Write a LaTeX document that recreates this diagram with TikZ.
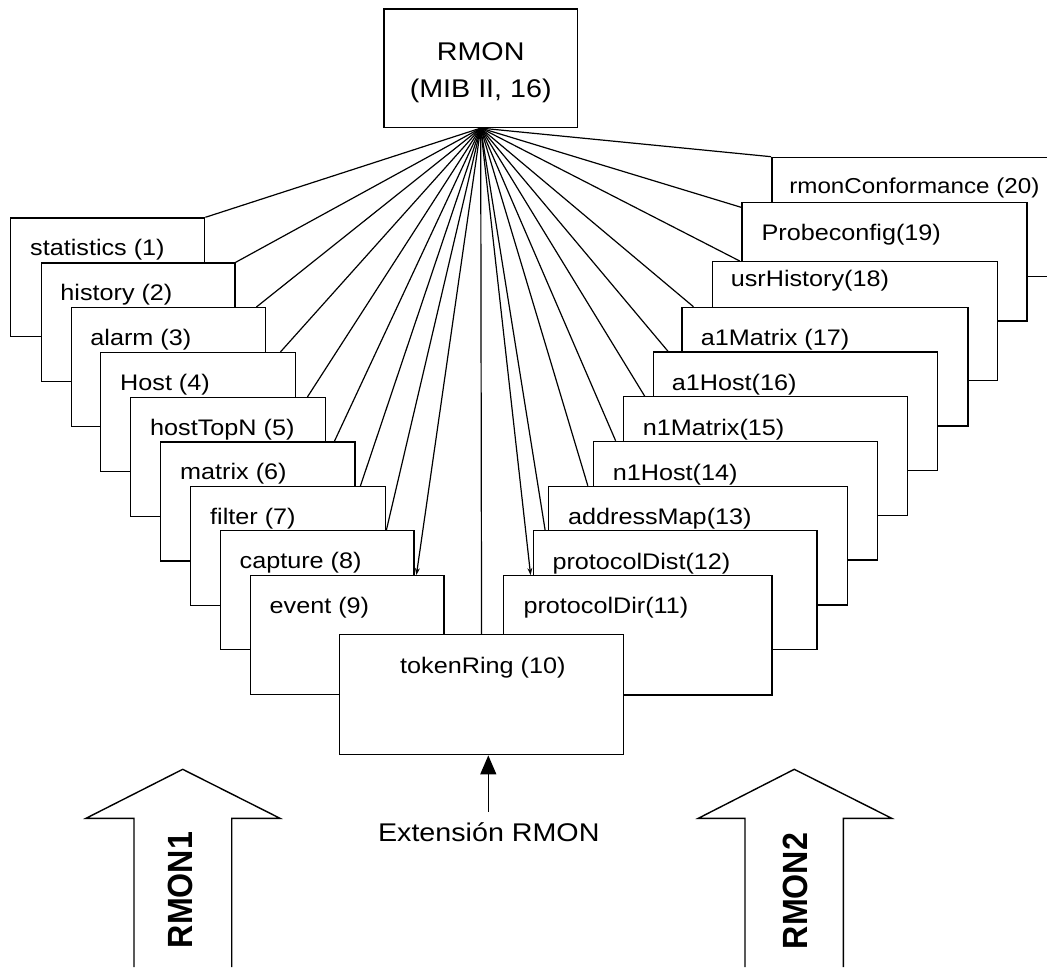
\documentclass[tikz,border=0pt]{standalone}
\usepackage{fontspec}
\setmainfont{Liberation Sans}[FakeStretch=1.12]
\newfontfamily\arrowfont{Liberation Sans}[FakeStretch=0.92]
\usetikzlibrary{arrows.meta,calc}

% one group box of the MIB tree: name, x, y (top left), width, height,
% label offset x, label offset y (baseline), label
\newcommand\groupbox[8]{%
  \node[grp,minimum width=#4pt,minimum height=#5pt] (#1) at (#2,#3) {};
  \node[lbl] (#1-lbl) at ($(#1.north west)+(#6,#7)$) {#8};}

\begin{document}
\begin{tikzpicture}[x=1pt,y=-1pt,
  grp/.style={draw,fill=white,line width=1.4pt,inner sep=0pt,anchor=north west},
  lbl/.style={inner sep=0pt,anchor=base west,font=\fontsize{22.5}{27}\selectfont},
  link/.style={line width=1.2pt},
  tiplink/.style={link,-{Stealth[length=7pt,width=5pt]}},
  bigarrow/.style={line width=1.4pt,line join=miter},
  arrowlbl/.style={inner sep=0pt,rotate=90,font=\arrowfont\bfseries\fontsize{35}{40}\selectfont}]
\useasboundingbox (0,0) rectangle (1047,977);
\clip (0,0) rectangle (1047,977);

% root of the tree
\node[grp,minimum width=193.4pt,minimum height=118.4pt] (rmon) at (383.3,8.3) {};
\node[align=center,inner sep=0pt,font=\fontsize{25.6}{36.7}\selectfont]
  (rmon-lbl) at ($(rmon.center)+(0,4.5)$) {RMON\\(MIB II, 16)};
\coordinate (apex) at (rmon.south);

% groups of RMON1, back to front
\groupbox{g1}{10}{217.3}{194}{118.7}{20}{38.5}{statistics (1)}
\groupbox{g2}{40.7}{262.3}{193.6}{118.7}{19.5}{38.5}{history (2)}
\groupbox{g3}{70.7}{307}{194.3}{119}{19.5}{38.5}{alarm (3)}
\groupbox{g4}{100}{352}{195}{119}{20}{38.5}{Host (4)}
\groupbox{g5}{130}{397}{195}{119}{20}{38.5}{hostTopN (5)}
\groupbox{g6}{160}{441.3}{194.3}{119}{20}{38.5}{matrix (6)}
\groupbox{g7}{190}{486}{195}{119}{20}{38.5}{filter (7)}
\groupbox{g8}{220}{530}{193.3}{119}{19.5}{38.5}{capture (8)}
\groupbox{g9}{250}{575}{193.3}{119}{19.5}{38.3}{event (9)}

% groups of RMON2, back to front
\groupbox{g20}{771.1}{156.7}{300}{119.3}{18}{36.3}{\fontsize{21.6}{26}\selectfont rmonConformance (20)}
\groupbox{g19}{741.1}{201.7}{285}{118.5}{20.3}{38.3}{Probeconfig(19)}
\groupbox{g18}{711.5}{261}{285}{119}{19.1}{25}{usrHistory(18)}
\groupbox{g17}{681.4}{306.7}{285.7}{118.6}{19.2}{38.3}{a1Matrix (17)}
\groupbox{g16}{652.5}{351.3}{284.3}{118.7}{19.2}{38.7}{a1Host(16)}
\groupbox{g15}{622.8}{396}{283.9}{119}{19.9}{39}{n1Matrix(15)}
\groupbox{g14}{592.8}{440.7}{283.9}{118.6}{19.9}{39.3}{n1Host(14)}
\groupbox{g13}{548}{485.7}{299}{118.7}{19.9}{38.3}{addressMap(13)}
\groupbox{g12}{532.7}{530}{283.6}{118.7}{19.6}{39.3}{protocolDist(12)}
\groupbox{g11}{502.8}{575}{268.3}{119.3}{20.5}{38.3}{protocolDir(11)}

% token ring extension in front of both stacks
\groupbox{g10}{339}{634}{283.7}{120}{61}{39}{tokenRing (10)}

% connectors from the root to every group
\draw[link] (apex) -- (g1.north east);
\draw[link] (apex) -- (g2.north east);
\draw[link] (apex) -- ($(g3.north east)+(-10,0)$);
\draw[link] (apex) -- ($(g4.north east)+(-16,0)$);
\draw[link] (apex) -- ($(g5.north east)+(-19,0)$);
\draw[link] (apex) -- ($(g6.north east)+(-21.3,0)$);
\draw[link] (apex) -- ($(g7.north east)+(-26,0)$);
\draw[link] (apex) -- ($(g8.north east)+(-28.3,0)$);
\draw[tiplink] (apex) -- ($(g9.north east)+(-28.3,0)$);
\draw[link] (apex) -- (g10.north);
\draw[tiplink] (apex) -- ($(g11.north west)+(27.8,0)$);
\draw[link] (apex) -- ($(g12.north west)+(12.4,0)$);
\draw[link] (apex) -- ($(g13.north west)+(39.8,0)$);
\draw[link] (apex) -- ($(g14.north west)+(22.8,0)$);
\draw[link] (apex) -- ($(g15.north west)+(21.8,0)$);
\draw[link] (apex) -- ($(g16.north west)+(15.5,0)$);
\draw[link] (apex) -- ($(g17.north west)+(12,0)$);
\draw[link] (apex) -- ($(g18.north west)+(28.2,0)$);
\draw[link] (apex) -- ($(g19.north west)+(0,5.6)$);
\draw[link] (apex) -- (g20.north west);

% extension pointer
\node[inner sep=0pt,anchor=base,font=\fontsize{25.6}{30}\selectfont]
  (ext) at (488.8,841.7) {Extensión RMON};
\coordinate (extTail) at (488.3,811.7);
\draw[line width=1.3pt,-{Triangle[length=19pt,width=16pt]}] (extTail) -- (extTail |- g10.south);

% the two block arrows
\draw[bigarrow] (134,967) -- (134,818.3) -- (86,818.3) -- (182.7,769.3)
  -- (280,818.3) -- (231.7,818.3) -- (231.7,967);
\node[arrowlbl] (r1) at (180,890) {RMON1};
\draw[bigarrow] (745,967) -- (745,818.3) -- (698.3,818.3) -- (794.3,769.3)
  -- (891.7,818.3) -- (843.3,818.3) -- (843.3,967);
\node[arrowlbl] (r2) at (795.8,891) {RMON2};
\end{tikzpicture}
\end{document}
